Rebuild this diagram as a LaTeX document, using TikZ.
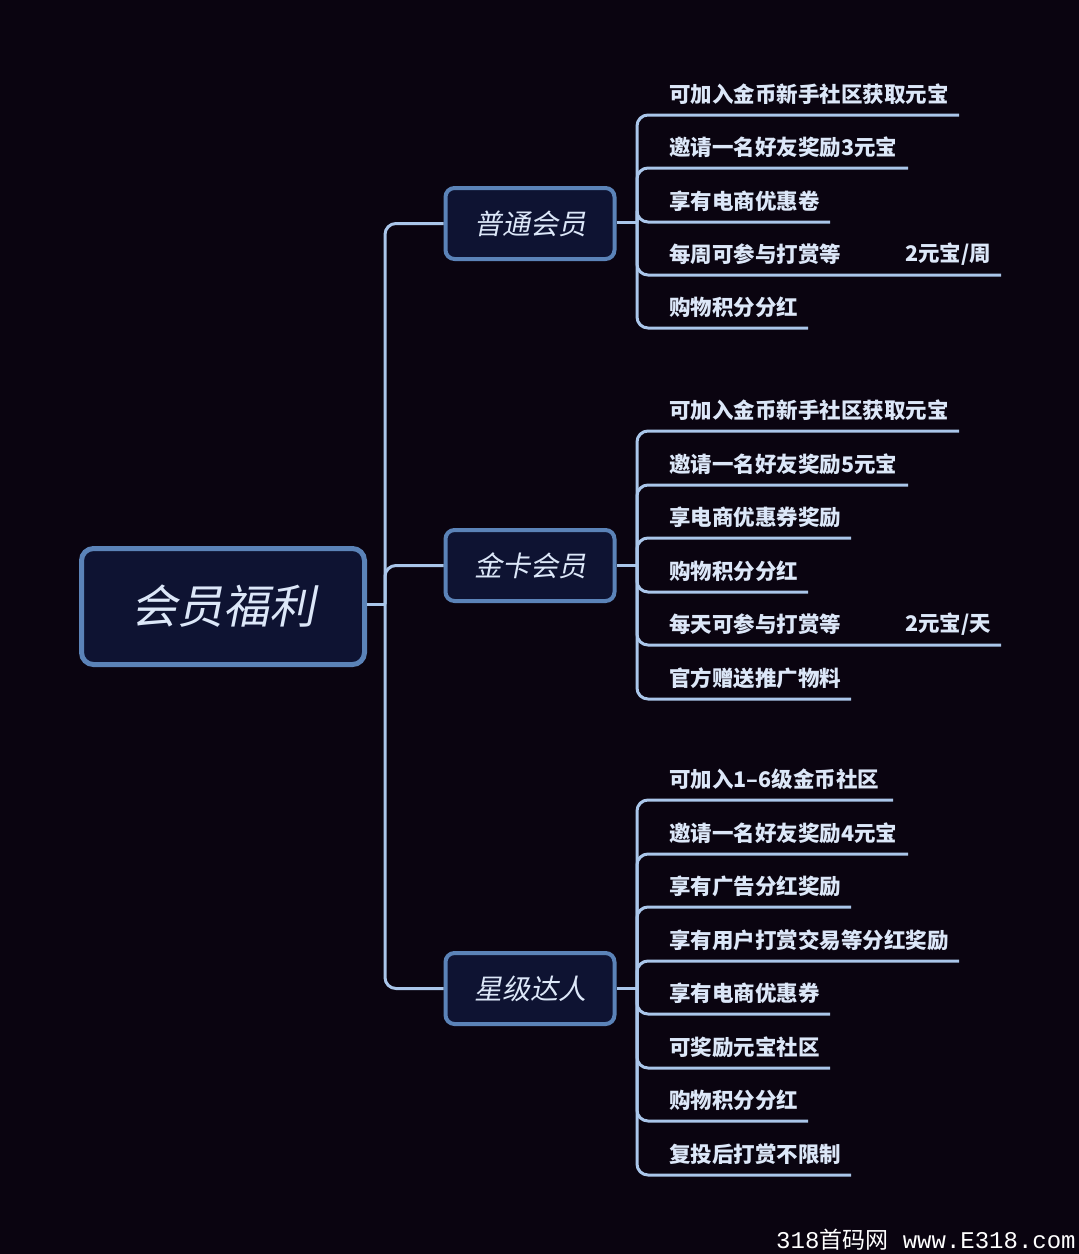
\documentclass[tikz,border=0pt]{standalone}
\usepackage{fontspec}
\newfontfamily\cjk{Noto Sans CJK SC}
\newfontfamily\cjkit[FakeSlant=0.2]{Noto Sans CJK SC}
\newfontfamily\wmono{Liberation Mono}
\definecolor{bgc}{RGB}{10,4,16}
\definecolor{boxfill}{RGB}{14,19,50}
\definecolor{boxdraw}{RGB}{91,131,184}
\definecolor{txt}{RGB}{220,231,248}
\definecolor{linec}{RGB}{170,198,234}
\tikzset{
  rootbox/.style={draw=boxdraw, fill=boxfill, line width=5pt, rounded corners=12pt,
    minimum width=283pt, minimum height=116pt, text=txt, font=\cjkit\fontsize{46}{52}\selectfont, inner sep=0pt},
  branchbox/.style={draw=boxdraw, fill=boxfill, line width=4pt, rounded corners=9pt,
    minimum width=169pt, minimum height=71pt, text=txt, font=\cjkit\fontsize{28}{33}\selectfont, inner sep=0pt},
  leaf/.style={anchor=west, inner sep=0pt, text=txt, font=\cjk\bfseries\fontsize{21.5}{26}\selectfont},
  conn/.style={draw=linec, line width=3pt, rounded corners=11pt},
}
\begin{document}
\begin{tikzpicture}[x=1pt,y=-1pt]
\fill[bgc] (0,0) rectangle (1079,1254);
\useasboundingbox (0,0) rectangle (1079,1254);

\node[rootbox] (root) at (223,606.5) {会员福利};
\node[branchbox] (b1) at (530,223.5) {普通会员};
\node[branchbox] (b2) at (530,565.5) {金卡会员};
\node[branchbox] (b3) at (530,988.5) {星级达人};

\coordinate (trunk) at (385,604);
\draw[conn] (root.east |- trunk) -- (trunk);
\draw[conn] (trunk) |- (b1.west);
\draw[conn] (trunk) |- (b3.west);
\draw[conn] (trunk) |- (b2.west);

\coordinate (h1) at (637,222);
\coordinate (h2) at (637,565);
\coordinate (h3) at (637,988);
\draw[conn] (b1.east |- h1) -- (h1);
\draw[conn] (b2.east |- h2) -- (h2);
\draw[conn] (b3.east |- h3) -- (h3);

\foreach \ly/\le/\t [count=\i] in {115/959/可加入金币新手社区获取元宝, 168/908/邀请一名好友奖励3元宝, 222/830/享有电商优惠卷, 275/1001/每周可参与打赏等, 328/808/购物积分分红}{
  \node[leaf] (a\i) at (669,\ly-21) {\t};
  \coordinate (ae\i) at (\le,\ly);
  \draw[conn] (h1) |- (ae\i);
}
\foreach \ly/\le/\t [count=\i] in {431/959/可加入金币新手社区获取元宝, 485/908/邀请一名好友奖励5元宝, 538/851/享电商优惠券奖励, 592/808/购物积分分红, 645/1001/每天可参与打赏等, 699/851/官方赠送推广物料}{
  \node[leaf] (g\i) at (669,\ly-21) {\t};
  \coordinate (ge\i) at (\le,\ly);
  \draw[conn] (h2) |- (ge\i);
}
\foreach \ly/\le/\t [count=\i] in {800/893/可加入1–6级金币社区, 854/908/邀请一名好友奖励4元宝, 907/851/享有广告分红奖励, 961/959/享有用户打赏交易等分红奖励, 1014/830/享有电商优惠券, 1068/830/可奖励元宝社区, 1121/808/购物积分分红, 1175/851/复投后打赏不限制}{
  \node[leaf] (s\i) at (669,\ly-21) {\t};
  \coordinate (se\i) at (\le,\ly);
  \draw[conn] (h3) |- (se\i);
}
\node[leaf] (a4x) at (905,254) {2元宝/周};
\node[leaf] (g5x) at (905,624) {2元宝/天};

\node[anchor=west, inner sep=0pt, text=white, font=\fontsize{24}{28}\selectfont] (wm) at (776,1240)
  {{\wmono 318}{\cjk\fontsize{23}{28}\selectfont 首码网}{\wmono\ www.E318.com}};
\end{tikzpicture}
\end{document}
